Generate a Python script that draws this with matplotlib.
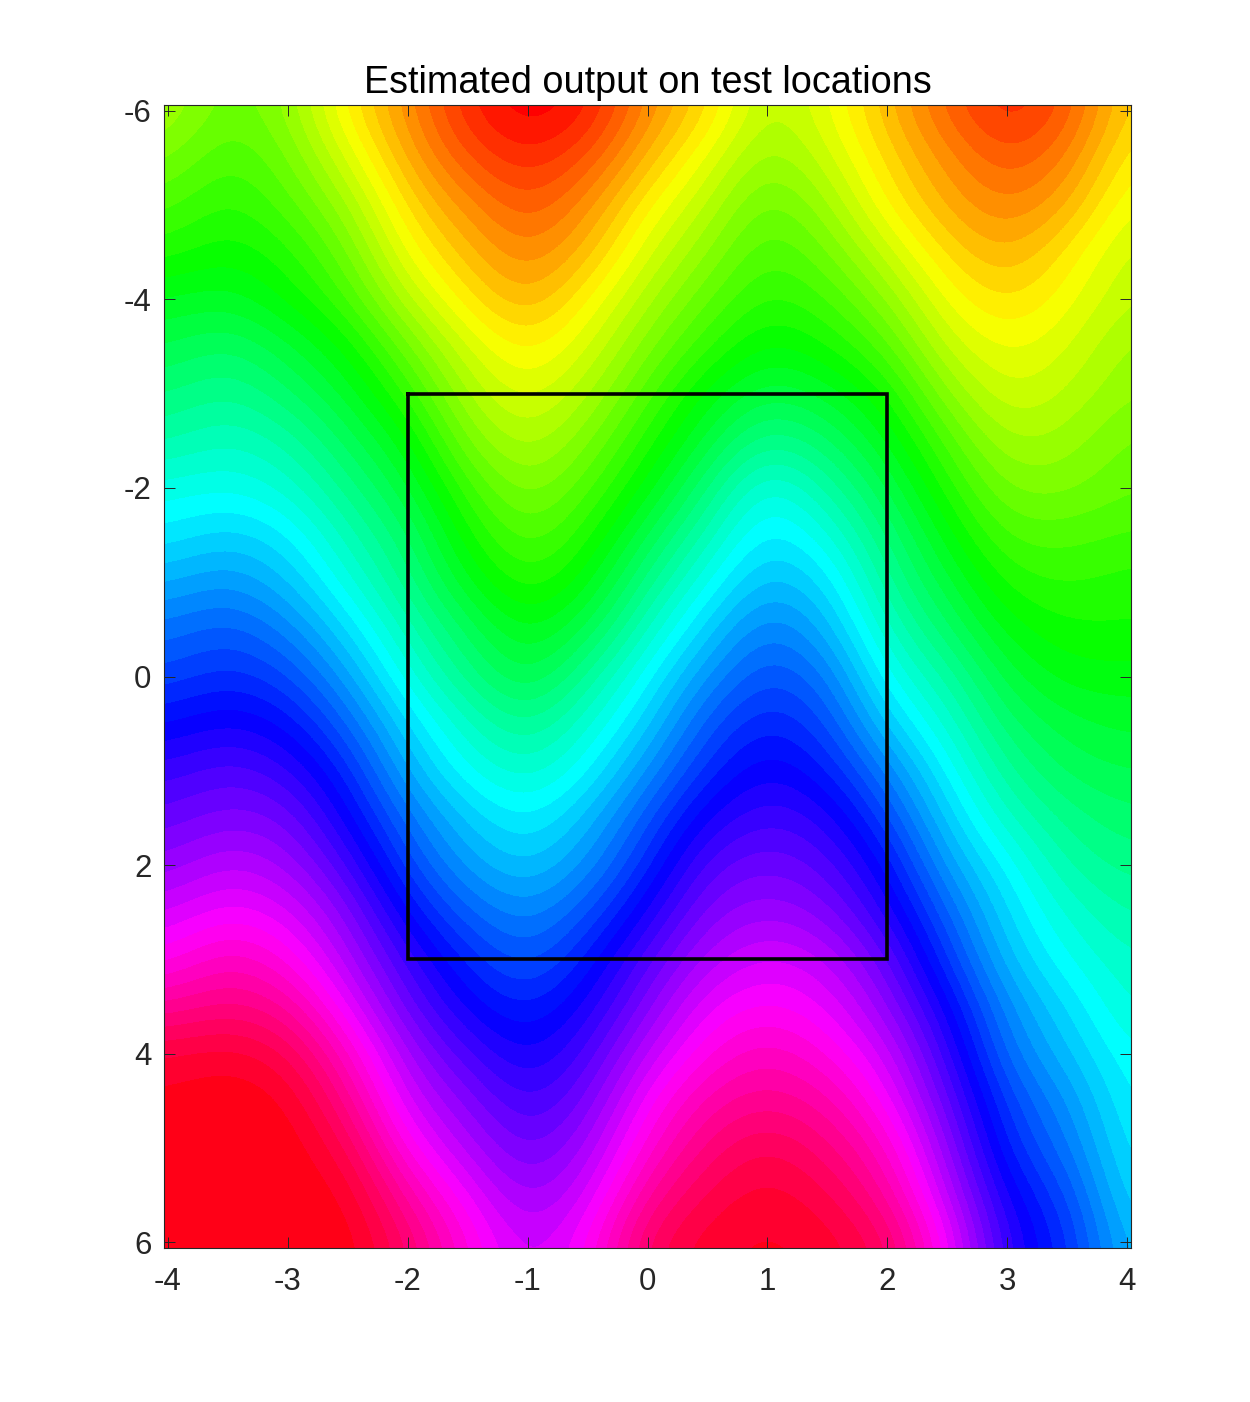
import colorsys
import numpy as np
import matplotlib
matplotlib.use("Agg")
import matplotlib.pyplot as plt
from matplotlib.colors import ListedColormap

x_positions = [-4, -3.5, -3, -2.5, -2, -1.5, -1, -0.5, 0, 0.5, 1, 1.5, 2, 2.5, 3, 3.5, 4]
x_ticks = [-4, -3, -2, -1, 0, 1, 2, 3, 4]
y_ticks = [-6, -4, -2, 0, 2, 4, 6]
box_x = [-2, 2, 2, -2, -2]
box_y = [-3, -3, 3, 3, -3]

# Estimated output (percent of colour range), one list per x position, y = -6 ... 6 in steps of 0.5
col_m40 = [23,26,29,32,36,39,42,45,49,52,56,60,63,67,71,74,77,81,85,91,97,99,100,100,100]
col_m35 = [28,30,32,34,37,41,44,47,50,54,58,62,65,69,73,76,80,84,89,93,98,100,100,100,100]
col_m30 = [25,27,29,32,34,38,41,45,48,52,55,59,63,67,71,75,78,82,86,91,96,99,100,100,100]
col_m25 = [16.5,20,24,27,30,34,37,40,43,46,49,53,57,61,65,68,72,76,79,83,88,92,96,99,100]
col_m20 = [10,12,15,18,22,27,31,35,38,41,43,46,49,53,56,60,63,67,71,74,78,81,85,90,94]
col_m15 = [3,6,10,13,16,20,23,26,30,33,36,40,43,47,50,54,57,61,65,68,72,76,79,83,86]
col_m10 = [0,3,6,9,12,16,19,22,25,28,31,35,38,43,47,51,54,58,61,65,68,71,74,77,80]
col_m05 = [2,6,10,13,17,20,23,26,29,32,35,39,44,48,51,55,58,62,66,69,72,75,78,81,84]
col_p00 = [10,13,17,20,23,26,29,32,35,39,43,47,51,54,58,62,65,69,73,76,80,84,87,91,95]
col_p05 = [15,19,22,25,28,31,35,38,42,46,50,54,58,62,65,69,73,76,79,83,86,90,93,96,98]
col_p10 = [23,25,28,30,32,35,39,44,50,53,56,60,63,66,69,72,75,78,82,85,89,92,96,98,99]
col_p15 = [19,21,24,27,30,33,37,41,45,49,53,56,60,63,66,70,73,76,80,83,86,90,93,96,98]
col_p20 = [13,15,17,21,25,29,33,36,39,42,44,47,50,54,59,63,67,70,74,77,81,84,88,91,95]
col_p25 = [7,10,12,15,18,21,25,29,32,35,38,41,45,48,51,54,57,61,64,68,71,74,77,80,84]
col_p30 = [3,6,9,12,15,18,20,23,26,29,32,35,38,41,44,47,51,53,55,58,60,63,65,68,70]
col_p35 = [6,9,12,16,18,20,22,24,26,29,31,33,35,38,40,43,45,48,50,53,55,58,60,63,65]
col_p40 = [15,17,19,21,22,24,25,27,28,30,32,33,35,37,39,41,43,45,47,48,50,51,52,53,55]

values = np.array([col_m40, col_m35, col_m30, col_m25, col_m20, col_m15, col_m10, col_m05,
                   col_p00, col_p05, col_p10, col_p15, col_p20, col_p25, col_p30, col_p35, col_p40]).T

plt.rcParams['font.family'] = ['Liberation Sans', 'DejaVu Sans']
plt.rcParams['axes.unicode_minus'] = False

W, H = 1250, 1402
fig = plt.figure(figsize=(W / 100, H / 100), dpi=100, facecolor='white')
ax = fig.add_axes([164 / W, 1 - 1248 / H, (1131 - 164) / W, (1248 - 105) / H])

cmap = ListedColormap([colorsys.hsv_to_rgb(i / 64, 1, 1) for i in range(64)])
ax.imshow(values, cmap=cmap, vmin=0, vmax=100, aspect='auto', origin='upper',
          extent=[-4.25, 4.25, 6.25, -6.25], interpolation='bicubic')
ax.plot(box_x, box_y, color='black', lw=2.6, solid_joinstyle='miter')

ax.set_xlim(-4.033, 4.033)
ax.set_ylim(6.06, -6.06)
ax.set_xticks(x_ticks)
ax.set_yticks(y_ticks)
ax.tick_params(direction='in', length=8, width=0.7, top=True, right=True,
               labelsize=22.5, colors='#262626')
ax.tick_params(axis='x', pad=14)
ax.tick_params(axis='y', pad=9)
for s in ax.spines.values():
    s.set_linewidth(0.8)
    s.set_color('#262626')
ax.set_title('Estimated output on test locations', fontsize=27.2, color='black', pad=8.5)

fig.savefig('out.png', dpi=100, facecolor='white')
